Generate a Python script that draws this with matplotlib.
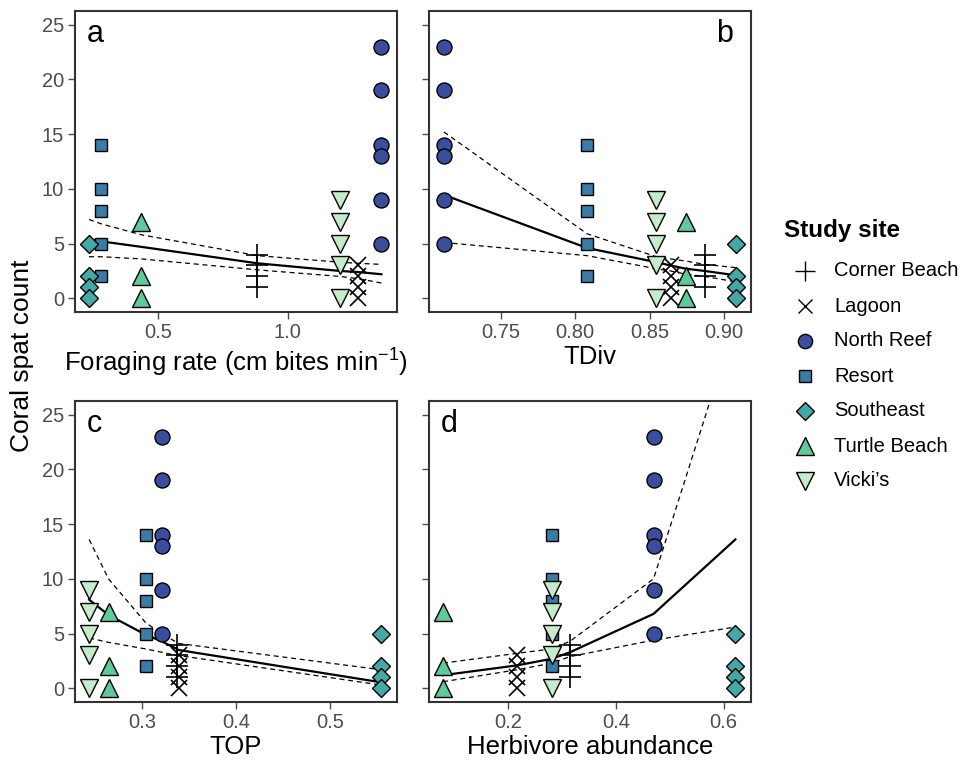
import matplotlib
matplotlib.use('Agg')
import matplotlib.pyplot as plt

plt.rcParams['font.family'] = ['Liberation Sans', 'DejaVu Sans']
plt.rcParams['mathtext.fontset'] = 'custom'
plt.rcParams['mathtext.rm'] = 'Liberation Sans'

# study sites and their spat counts (same in every panel)
sites = ['Corner Beach', 'Lagoon', 'North Reef', 'Resort', 'Southeast', 'Turtle Beach', "Vicki\u2019s"]
counts = {
    'Corner Beach': [4, 3, 2, 1],
    'Lagoon': [3, 2, 1, 0],
    'North Reef': [23, 19, 14, 13, 9, 5],
    'Resort': [14, 10, 8, 5, 2],
    'Southeast': [5, 2, 1, 0],
    'Turtle Beach': [7, 2, 0],
    "Vicki\u2019s": [9, 7, 5, 3, 0],
}

# predictor value of each site, one list per panel (same order as sites)
foraging = [0.884, 1.271, 1.362, 0.283, 0.235, 0.437, 1.202]
tdiv = [0.887, 0.864, 0.712, 0.808, 0.908, 0.8745, 0.8545]
top = [0.337, 0.339, 0.321, 0.304, 0.554, 0.2646, 0.244]
herb = [0.315, 0.217, 0.470, 0.281, 0.622, 0.079, 0.281]

# fitted line and 95% band at each site (same order as sites)
fit_a = [3.2, 2.4, 2.2, 5.2, 5.4, 4.7, 2.5]
up_a = [3.9, 3.2, 3.1, 6.8, 7.2, 5.8, 3.3]
lo_a = [2.6, 1.8, 1.4, 3.8, 3.8, 3.6, 2.0]

fit_b = [2.5, 3.0, 9.45, 4.6, 2.1, 2.7, 3.3]
up_b = [3.1, 3.6, 15.2, 5.9, 2.8, 3.4, 3.8]
lo_b = [2.0, 2.5, 5.1, 3.9, 1.5, 2.2, 2.7]

fit_c = [3.6, 3.5, 4.3, 4.9, 0.55, 6.7, 8.1]
up_c = [4.2, 4.1, 5.0, 6.0, 1.7, 10.0, 13.6]
lo_c = [3.0, 3.0, 3.3, 3.6, 0.3, 4.2, 4.6]

fit_d = [3.3, 2.1, 6.8, 2.7, 13.6, 1.2, 2.7]
up_d = [4.3, 3.2, 10.0, 3.6, 33.5, 2.3, 3.6]
lo_d = [2.9, 1.7, 4.4, 2.3, 5.6, 0.6, 2.3]

colors = {
    'Corner Beach': 'black', 'Lagoon': 'black',
    'North Reef': '#3b4e9e', 'Resort': '#3a7ca5', 'Southeast': '#43a9a6',
    'Turtle Beach': '#5fc99a', "Vicki\u2019s": '#c5ebcb',
}
markers = {'Corner Beach': '+', 'Lagoon': 'x', 'North Reef': 'o', 'Resort': 's',
           'Southeast': 'D', 'Turtle Beach': '^', "Vicki\u2019s": 'v'}
msize = {'Corner Beach': 16, 'Lagoon': 11, 'North Reef': 10.8, 'Resort': 8.6,
         'Southeast': 9.4, 'Turtle Beach': 13, "Vicki\u2019s": 13}

panels = [
    ('a', foraging, fit_a, up_a, lo_a, (0.181, 1.422), [0.5, 1.0], ['0.5', '1.0'],
     'Foraging rate (cm bites min$^{\\mathregular{-1}}$)', 'left'),
    ('b', tdiv, fit_b, up_b, lo_b, (0.702, 0.918), [0.75, 0.80, 0.85, 0.90],
     ['0.75', '0.80', '0.85', '0.90'], 'TDiv', 'right'),
    ('c', top, fit_c, up_c, lo_c, (0.229, 0.571), [0.3, 0.4, 0.5], ['0.3', '0.4', '0.5'],
     'TOP', 'left'),
    ('d', herb, fit_d, up_d, lo_d, (0.053, 0.651), [0.2, 0.4, 0.6], ['0.2', '0.4', '0.6'],
     'Herbivore abundance', 'left'),
]

W, H = 962, 764
fig = plt.figure(figsize=(W / 100, H / 100), dpi=100)
boxes = [(75, 11, 397, 312), (429, 11, 751, 312), (75, 401, 397, 702), (429, 401, 751, 702)]

for (lab, xs, fit, up, lo, xlim, xt, xtl, xlabel, side), (x0, y0, x1, y1) in zip(panels, boxes):
    ax = fig.add_axes([x0 / W, 1 - y1 / H, (x1 - x0) / W, (y1 - y0) / H])
    order = sorted(range(len(sites)), key=lambda i: xs[i])
    sx = [xs[i] for i in order]
    ax.plot(sx, [fit[i] for i in order], color='black', lw=1.6, zorder=3)
    ax.plot(sx, [up[i] for i in order], color='black', lw=0.9, ls=(0, (4, 3)), zorder=3)
    ax.plot(sx, [lo[i] for i in order], color='black', lw=0.9, ls=(0, (4, 3)), zorder=3)
    for i, s in enumerate(sites):
        ys = counts[s]
        if markers[s] in '+x':
            ax.plot([xs[i]] * len(ys), ys, ls='none', marker=markers[s], ms=msize[s],
                    mew=1.2, color='black', zorder=4)
        else:
            ax.plot([xs[i]] * len(ys), ys, ls='none', marker=markers[s], ms=msize[s],
                    mfc=colors[s], mec='black', mew=1.0, zorder=4)
    ax.set_xlim(*xlim)
    ax.set_ylim(-1.25, 26.25)
    ax.set_xticks(xt)
    ax.set_xticklabels(xtl)
    ax.set_yticks([0, 5, 10, 15, 20, 25])
    if x0 < 100:
        ax.set_yticklabels(['0', '5', '10', '15', '20', '25'])
    else:
        ax.set_yticklabels([])
    ax.tick_params(direction='out', length=5, width=1, color='#4d4d4d',
                   labelcolor='#4d4d4d', labelsize=14.5, pad=3)
    for sp in ax.spines.values():
        sp.set_color('#333333')
        sp.set_linewidth(1.5)
    ax.set_xlabel(xlabel, fontsize=18.5, labelpad=2)
    base = 1 - 31 / (y1 - y0)
    if side == 'left':
        ax.text(12 / (x1 - x0), base, lab, transform=ax.transAxes, fontsize=22,
                ha='left', va='baseline')
    else:
        ax.text(1 - 18 / (x1 - x0), base, lab, transform=ax.transAxes, fontsize=22,
                ha='right', va='baseline')

fig.text(22 / W, 1 - 356 / H, 'Coral spat count', rotation=90, fontsize=19,
         ha='center', va='center')

# legend, drawn by hand in pixel coordinates
lax = fig.add_axes([0, 0, 1, 1])
lax.set_xlim(0, W)
lax.set_ylim(H, 0)
lax.axis('off')
lax.text(784, 230, 'Study site', fontsize=17.5, fontweight='bold', ha='left', va='center')
for k, s in enumerate(sites):
    yy = 271 + 35 * k
    if markers[s] in '+x':
        lax.plot([805], [yy], ls='none', marker=markers[s], ms=msize[s] * 0.9,
                 mew=1.0, color='black')
    else:
        lax.plot([805], [yy], ls='none', marker=markers[s], ms=msize[s] * 0.95,
                 mfc=colors[s], mec='black', mew=1.0)
    lax.text(834, yy, s, fontsize=14.5, ha='left', va='center')

fig.savefig('out.png', dpi=100)
